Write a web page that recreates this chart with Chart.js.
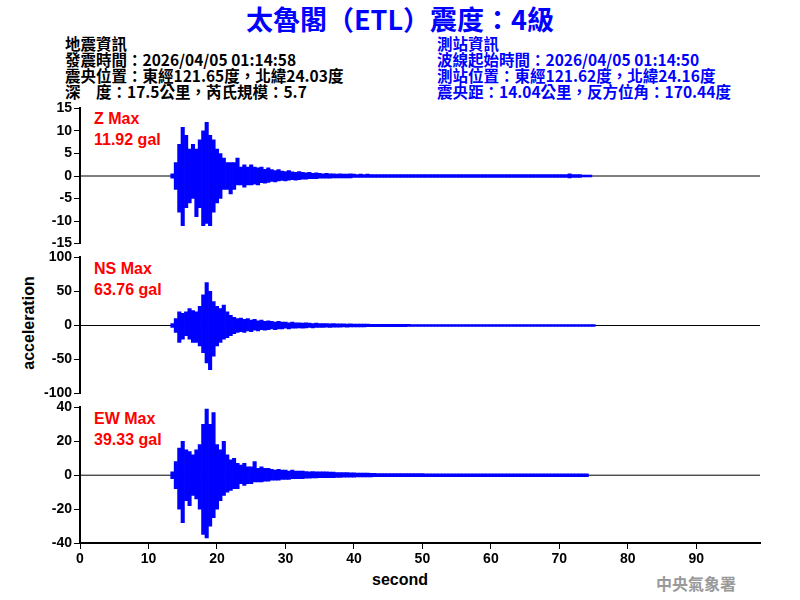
<!DOCTYPE html>
<html><head><meta charset="utf-8">
<script src="https://cdn.jsdelivr.net/npm/chart.js@4/dist/chart.umd.min.js"></script>
<style>
body{margin:0;width:800px;height:600px;background:#fff;position:relative;overflow:hidden;font-family:"Noto Sans CJK TC",sans-serif}
canvas{position:absolute;left:0}
.t{position:absolute;white-space:nowrap;font-weight:bold}
.info{font-size:15.5px;line-height:16px}
.red{color:#ff0000;font:bold 16px Arial;line-height:21px}
</style></head><body>
<div class="t" style="left:0;width:800px;text-align:center;top:2px;font-size:27px;line-height:34px;color:#0000ff">太魯閣（ETL）震度：4級</div>
<div class="t info" style="left:65px;top:35px;color:#000">地震資訊<br>發震時間：2026/04/05 01:14:58<br>震央位置：東經121.65度，北緯24.03度<br>深　度：17.5公里，芮氏規模：5.7</div>
<div class="t info" style="left:437px;top:35px;color:#0000ff">測站資訊<br>波線起始時間：2026/04/05 01:14:50<br>測站位置：東經121.62度，北緯24.16度<br>震央距：14.04公里，反方位角：170.44度</div>
<div class="t red" style="left:94px;top:108px">Z Max<br>11.92 gal</div>
<div class="t red" style="left:94px;top:258px">NS Max<br>63.76 gal</div>
<div class="t red" style="left:94px;top:408px">EW Max<br>39.33 gal</div>
<div class="t" style="left:-18px;top:314px;transform:rotate(-90deg);font:bold 16px Arial;color:#000">acceleration</div>
<div class="t" style="left:372px;top:571px;font:bold 16px Arial;color:#000">second</div>
<div class="t" style="left:656px;top:571px;font-size:16px;color:#999">中央氣象署</div>
<canvas id="c1" width="800" height="156" style="top:98px"></canvas>
<canvas id="c2" width="800" height="157" style="top:247px"></canvas>
<canvas id="c3" width="800" height="172" style="top:397px"></canvas>
<script>
const T0 = 13.5, DT = 0.5; // time of first sample, step (s)
const xTicks = [0,10,20,30,40,50,60,70,80,90];
const zHi = [0.5,3,7,10.8,9,6,7,6,8,10,11.9,9,8,6,5,4,3,3,3,4,2,2.5,2,2.5,2,1.8,2,1.5,1.8,1.4,1.2,1.4,1.1,1,1.2,0.9,0.8,1,0.8,0.7,0.8,0.6,0.7,0.6,0.5,0.6,0.5,0.5,0.4,0.5,0.4,0.4,0.5,0.4,0.3,0.4,0.3,0.4,0.3,0.3,0.3,0.3,0.3,0.3,0.3,0.3,0.3,0.3,0.3,0.3,0.3,0.3,0.3,0.3,0.3,0.3,0.3,0.3,0.3,0.3,0.3,0.3,0.3,0.3,0.3,0.3,0.3,0.3,0.3,0.3,0.3,0.3,0.3,0.3,0.3,0.3,0.3,0.3,0.3,0.3,0.3,0.3,0.3,0.3,0.3,0.3,0.3,0.3,0.3,0.3,0.3,0.3,0.3,0.3,0.3,0.3,0.5,0.3,0.3,0.3,0.2,0.2,0.2];
const zLo = [-0.5,-3,-8,-11,-7,-6,-5,-9,-7,-11,-10.5,-11,-8,-6,-5,-3,-3,-4,-3,-2,-2,-2.5,-2,-2,-1.8,-2,-1.5,-1.6,-1.4,-1.2,-1.3,-1.1,-1,-1.1,-0.9,-0.8,-0.9,-0.8,-0.7,-0.7,-0.6,-0.6,-0.6,-0.5,-0.5,-0.5,-0.5,-0.4,-0.4,-0.4,-0.4,-0.4,-0.4,-0.3,-0.3,-0.3,-0.3,-0.3,-0.3,-0.3,-0.3,-0.3,-0.3,-0.3,-0.3,-0.3,-0.3,-0.3,-0.3,-0.3,-0.3,-0.3,-0.3,-0.3,-0.3,-0.3,-0.3,-0.3,-0.3,-0.3,-0.3,-0.3,-0.3,-0.3,-0.3,-0.3,-0.3,-0.3,-0.3,-0.3,-0.3,-0.3,-0.3,-0.3,-0.3,-0.3,-0.3,-0.3,-0.3,-0.3,-0.3,-0.3,-0.3,-0.3,-0.3,-0.3,-0.3,-0.3,-0.3,-0.3,-0.3,-0.3,-0.3,-0.3,-0.3,-0.3,-0.4,-0.3,-0.3,-0.3,-0.2,-0.2,-0.2];
const nsHi = [3,10,20,18,20,25,22,20,28,45,63,50,35,28,25,30,20,15,12,10,11,9,10,8,9,7,8,6,7,6,5,6,5,5,4,5,4,4,3.5,4,3.5,3,3.5,3,3,3,2.5,3,2.5,2.5,2.5,2,2.5,2,2,2,2,2,1.8,1.8,1.8,1.8,1.8,1.8,1.6,1.6,1.6,1.6,1.6,1.6,1.5,1.5,1.5,1.5,1.5,1.5,1.5,1.5,1.5,1.5,1.5,1.5,1.5,1.5,1.5,1.5,1.5,1.5,1.5,1.5,1.5,1.5,1.5,1.5,1.5,1.5,1.5,1.5,1.5,1.5,1.5,1.5,1.5,1.5,1.5,1.5,1.5,1.5,1.5,1.5,1.5,1.5,1.5,1.5,1.5,1.5,1.5,1.5,1.5,1.5,1.5,1.5,1.5,1.5];
const nsLo = [-3,-10,-25,-20,-15,-20,-25,-25,-30,-40,-55,-65,-45,-30,-25,-20,-18,-15,-12,-10,-9,-10,-8,-9,-7,-8,-6,-7,-6,-5,-6,-5,-5,-4,-5,-4,-4,-3.5,-4,-3.5,-3,-3.5,-3,-3,-3,-2.5,-3,-2.5,-2.5,-2.5,-2,-2.5,-2,-2,-2,-2,-2,-1.8,-1.8,-1.8,-1.8,-1.8,-1.8,-1.6,-1.6,-1.6,-1.6,-1.6,-1.6,-1.5,-1.5,-1.5,-1.5,-1.5,-1.5,-1.5,-1.5,-1.5,-1.5,-1.5,-1.5,-1.5,-1.5,-1.5,-1.5,-1.5,-1.5,-1.5,-1.5,-1.5,-1.5,-1.5,-1.5,-1.5,-1.5,-1.5,-1.5,-1.5,-1.5,-1.5,-1.5,-1.5,-1.5,-1.5,-1.5,-1.5,-1.5,-1.5,-1.5,-1.5,-1.5,-1.5,-1.5,-1.5,-1.5,-1.5,-1.5,-1.5,-1.5,-1.5,-1.5,-1.5,-1.5,-1.5];
const ewHi = [2,8,16,20,15,14,12,15,18,30,39,30,37,18,15,20,12,9,10,7,6,7,5,5,8,4,5,4,4,3.5,3,3.5,3,3,2.5,3,2.5,2.5,2.5,2.2,2,2.2,2,2,2,2,1.8,1.8,1.6,1.6,1.6,1.5,1.4,1.4,1.3,1.2,1.2,1.2,1.1,1.1,1,1,1,1,1,1,0.9,0.9,0.9,0.9,0.9,0.9,0.9,0.9,0.8,0.8,0.8,0.8,0.8,0.8,0.8,0.8,0.8,0.8,0.8,0.8,0.8,0.8,0.8,0.8,0.8,0.8,0.8,0.8,0.8,0.8,0.8,0.8,0.8,0.8,0.8,0.8,0.8,0.8,0.8,0.8,0.8,0.8,0.8,0.8,0.8,0.8,0.8,0.8,0.8,0.8,0.8,0.8,0.8,0.8,0.8,0.8];
const ewLo = [-2,-8,-20,-28,-15,-18,-12,-14,-20,-35,-37,-30,-25,-20,-15,-12,-10,-9,-8,-8,-5,-6,-5,-5,-4,-4,-4,-3.5,-3.5,-3,-3,-3,-2.5,-2.5,-2.5,-2,-2,-2,-2,-1.8,-1.8,-1.6,-1.6,-1.5,-1.5,-1.5,-1.4,-1.4,-1.3,-1.3,-1.2,-1.2,-1.1,-1.1,-1,-1,-1,-1,-1,-0.9,-0.9,-0.9,-0.9,-0.9,-0.9,-0.9,-0.8,-0.8,-0.8,-0.8,-0.8,-0.8,-0.8,-0.8,-0.8,-0.8,-0.8,-0.8,-0.8,-0.8,-0.8,-0.8,-0.8,-0.8,-0.8,-0.8,-0.8,-0.8,-0.8,-0.8,-0.8,-0.8,-0.8,-0.8,-0.8,-0.8,-0.8,-0.8,-0.8,-0.8,-0.8,-0.8,-0.8,-0.8,-0.8,-0.8,-0.8,-0.8,-0.8,-0.8,-0.8,-0.8,-0.8,-0.8,-0.8,-0.8,-0.8,-0.8,-0.8,-0.8,-0.8,-0.8,-0.8,-0.8];
const XMAX = 99.3;
const tickFont = {family:'Arial', size:14, weight:'bold'};
function mk(id, hi, lo, ymin, ymax, step, showX){
  const bars = hi.map((h,i)=>({x:T0+i*DT, y:[lo[i],h]}));
  new Chart(document.getElementById(id), {
    data:{datasets:[
      {type:'line', data:[{x:0,y:0},{x:XMAX,y:0}], borderColor:'#000', borderWidth:1, pointRadius:0, order:2},
      {type:'bar', data:bars, backgroundColor:'#0000ff', borderWidth:0, barPercentage:1, categoryPercentage:1, order:1}
    ]},
    options:{animation:false, responsive:false, devicePixelRatio:1,
      layout:{padding:{left:10,right:40,top:10,bottom:showX?0:2}},
      plugins:{legend:{display:false}, tooltip:{enabled:false}},
      scales:{
        x:{type:'linear', min:0, max:XMAX, display:showX, offset:false,
           afterBuildTicks:s=>{s.ticks=xTicks.map(v=>({value:v}));},
           afterFit:s=>{s.height=showX?26:0;},
           grid:{offset:false, drawOnChartArea:false, drawTicks:true, tickLength:6, color:'#000', lineWidth:1},
           border:{display:true, color:'#000', width:2},
           ticks:{color:'#000', font:tickFont, padding:2, maxRotation:0, autoSkip:false}},
        y:{min:ymin, max:ymax,
           afterBuildTicks:s=>{const t=[];for(let v=ymin;v<=ymax+1e-9;v+=step)t.push({value:v});s.ticks=t;},
           afterFit:s=>{s.width=70;},
           grid:{drawOnChartArea:false, drawTicks:true, tickLength:6, color:'#000', lineWidth:1},
           border:{display:true, color:'#000', width:2},
           ticks:{color:'#000', font:tickFont, padding:2, autoSkip:false}}
      }}
  });
}
mk('c1', zHi, zLo, -15, 15, 5, false);
mk('c2', nsHi, nsLo, -100, 100, 50, false);
mk('c3', ewHi, ewLo, -40, 40, 20, true);
</script></body></html>
